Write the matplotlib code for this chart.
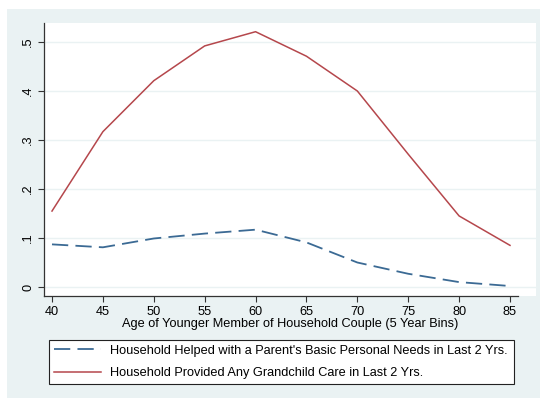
import matplotlib
matplotlib.use("Agg")
import matplotlib.pyplot as plt
from matplotlib.patches import Rectangle

ages = [40, 45, 50, 55, 60, 65, 70, 75, 80, 85]
helped_parent = [0.087, 0.081, 0.099, 0.109, 0.117, 0.091, 0.050, 0.027, 0.010, 0.002]
grandchild_care = [0.155, 0.317, 0.421, 0.492, 0.521, 0.471, 0.400, 0.271, 0.145, 0.085]
yticks = [0, 0.1, 0.2, 0.3, 0.4, 0.5]
ytick_labels = ["0", ".1", ".2", ".3", ".4", ".5"]
xlabel = "Age of Younger Member of Household Couple (5 Year Bins)"
labels = ["Household Helped with a Parent's Basic Personal Needs in Last 2 Yrs.",
          "Household Provided Any Grandchild Care in Last 2 Yrs."]

plt.rcParams['font.family'] = ['Liberation Sans', 'DejaVu Sans']
FS = 9.2
W, H = 540, 399
fig = plt.figure(figsize=(W/100, H/100), dpi=100)
fig.patch.set_facecolor('white')
bg = '#eaf2f3'
fig.patches.append(Rectangle((7/W, 1-398/H), 533/W, 389/H, transform=fig.transFigure,
                             facecolor=bg, edgecolor='none', zorder=-10))

ax = fig.add_axes([44/W, 1-296/H, (536-44)/W, (296-23)/H])
ax.set_facecolor('white')
blue = '#3b6a94'
red = '#b5474c'
l1, = ax.plot(ages, helped_parent, color=blue, lw=1.3, dashes=(9, 4), label=labels[0])
l2, = ax.plot(ages, grandchild_care, color=red, lw=1.1, label=labels[1])

px = 458/45
ax.set_xlim(40 - 8/px, 85 + 26/px)
ax.set_ylim((287-296)/490, (287-23)/490)
ax.set_xticks(ages)
ax.set_xticklabels([str(a) for a in ages])
ax.set_yticks(yticks)
ax.set_yticklabels(ytick_labels, rotation=90, va='center')
ax.grid(axis='y', color=bg, lw=1.0)
ax.set_axisbelow(True)
for s in ['top', 'right']:
    ax.spines[s].set_visible(False)
for s in ['left', 'bottom']:
    ax.spines[s].set_color('#333333')
    ax.spines[s].set_linewidth(0.9)
ax.spines['bottom'].set_bounds(40 - 8/px, 85 + 8/px)
ax.tick_params(axis='both', length=4, width=0.8, color='#333333', labelsize=FS, pad=3)
ax.set_xlabel(xlabel, fontsize=FS, labelpad=0.5)

leg = fig.legend(handles=[l1, l2], loc='center left',
                 bbox_to_anchor=(49/W, 1-385/H, (514-49)/W, (385-339)/H),
                 mode='expand', fontsize=FS, frameon=True, fancybox=False,
                 edgecolor='#222222', facecolor='white', framealpha=1,
                 handlelength=3.7, handletextpad=0.65, labelspacing=0.8,
                 borderpad=0.4, borderaxespad=0)
leg.get_frame().set_linewidth(0.8)

fig.savefig('out.png', dpi=100)
